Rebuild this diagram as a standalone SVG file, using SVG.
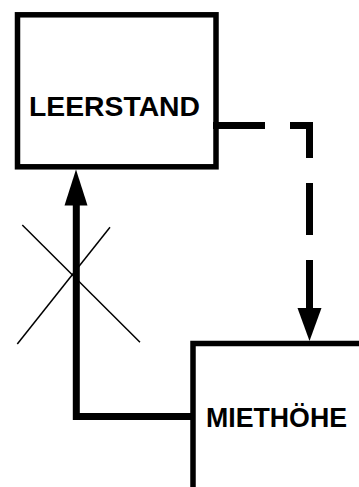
<svg xmlns="http://www.w3.org/2000/svg" width="359" height="487" viewBox="0 0 359 487">
<style>
.box{fill:#fff;stroke:#000;stroke-width:5.5}
.lbl{font-family:"Liberation Sans",Arial,sans-serif;font-weight:bold;font-size:28px;fill:#000}
.conn{fill:none;stroke:#000;stroke-width:7}
.dash{stroke-dasharray:52 25}
.cross{stroke:#000;stroke-width:1.5}
</style>
<rect width="359" height="487" fill="#fff"/>
<g id="leerstand">
<rect class="box" x="17.5" y="14.8" width="198.5" height="152"/>
<text class="lbl" x="29" y="116" textLength="171" lengthAdjust="spacingAndGlyphs">LEERSTAND</text>
</g>
<g id="miethoehe">
<rect class="box" x="193" y="343.5" width="200" height="200"/>
<text class="lbl" x="206" y="427" textLength="141" lengthAdjust="spacingAndGlyphs">MIETHÖHE</text>
</g>
<g id="connectors">
<path class="conn" d="M193,416.5 H76.3 V204"/>
<polygon points="76,169.5 64.5,205.5 87.5,205.5"/>
<path class="conn dash" d="M213,125.5 H309.5 V309"/>
<polygon points="309.5,341 297.5,308 321.5,308"/>
<line class="cross" x1="22.3" y1="225" x2="140" y2="342.3"/>
<line class="cross" x1="110" y1="227.3" x2="17.3" y2="344"/>
</g>
</svg>
